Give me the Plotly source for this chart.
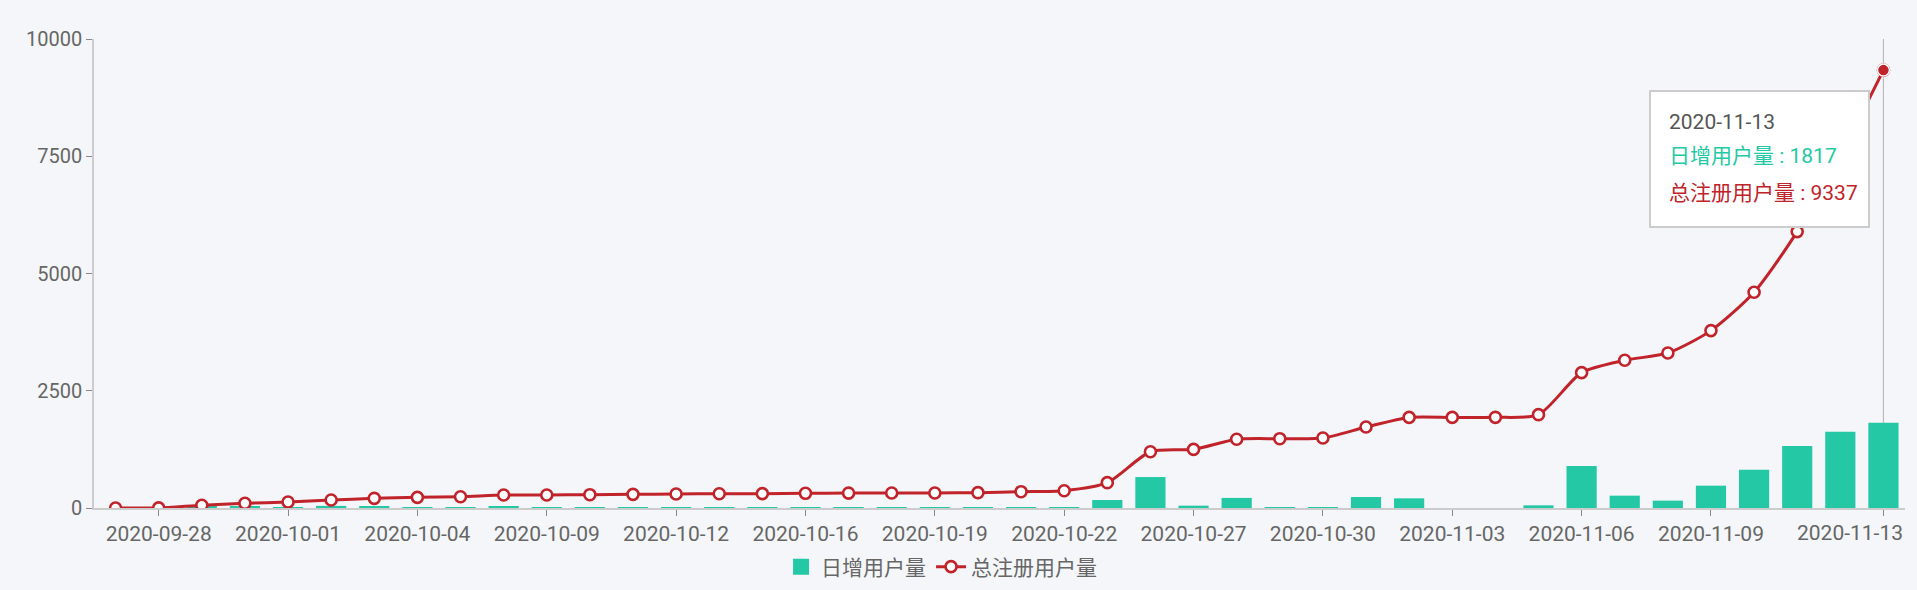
import plotly.graph_objects as go

# ---------------- data ----------------
dates = [
    "2020-09-27", "2020-09-28", "2020-09-29", "2020-09-30", "2020-10-01", "2020-10-02",
    "2020-10-03", "2020-10-04", "2020-10-06", "2020-10-08", "2020-10-09", "2020-10-10",
    "2020-10-11", "2020-10-12", "2020-10-13", "2020-10-15", "2020-10-16", "2020-10-17",
    "2020-10-18", "2020-10-19", "2020-10-20", "2020-10-21", "2020-10-22", "2020-10-23",
    "2020-10-25", "2020-10-27", "2020-10-28", "2020-10-29", "2020-10-30", "2020-10-31",
    "2020-11-02", "2020-11-03", "2020-11-04", "2020-11-05", "2020-11-06", "2020-11-07",
    "2020-11-08", "2020-11-09", "2020-11-10", "2020-11-11", "2020-11-12", "2020-11-13",
]
daily_new = [
    0, 0, 30, 25, 15, 45, 40, 12, 10, 30, 5, 3, 2, 3, 5, 2, 5, 3, 2, 2, 6,
    21, 21, 171, 660, 50, 215, 13, 14, 234, 206, 0, 0, 57, 896, 263, 157, 476, 817,
    1322, 1627, 1817,
]
total_users = [
    0, 2, 60, 100, 128, 170, 206, 227, 241, 277, 278, 284, 291, 298, 305, 306, 313,
    318, 320, 321, 327, 348, 369, 540, 1200, 1250, 1465, 1478, 1492, 1726, 1932, 1932,
    1933, 1990, 2886, 3149, 3306, 3782, 4599, 5893, 7520, 9337,
]
tick_dates = [
    "2020-09-28", "2020-10-01", "2020-10-04", "2020-10-09", "2020-10-12", "2020-10-16",
    "2020-10-19", "2020-10-22", "2020-10-27", "2020-10-30", "2020-11-03", "2020-11-06",
    "2020-11-09", "2020-11-13",
]
y_ticks = [0, 2500, 5000, 7500, 10000]
y_ticktext = ["0", "2500", "5000", "7500", "10000"]

name_bar = "日增用户量"
name_line = "总注册用户量"

# ---------------- style ----------------
TEAL = "#24c8a5"
RED = "#c1232b"
BG = "#f4f6f9"
TXT = "#666666"
AXIS = "#cccccc"
FONT = "Roboto, 'Noto Sans CJK SC', sans-serif"

fig = go.Figure()
fig.add_trace(go.Bar(
    x=dates, y=daily_new, name=name_bar, showlegend=False,
    marker=dict(color=TEAL, line=dict(width=0)),
    width=0.7,
))
# legend entry for the bars (larger square swatch)
fig.add_trace(go.Scatter(
    x=[None], y=[None], name=name_bar, mode="markers",
    marker=dict(symbol="square", size=17, color=TEAL),
))
fig.add_trace(go.Scatter(
    x=dates, y=total_users, name=name_line, mode="lines+markers",
    line=dict(color=RED, width=3, shape="spline", smoothing=0.7),
    marker=dict(symbol="circle", size=11, color="white", line=dict(color=RED, width=2.6)),
))
# highlighted (hovered) last point
fig.add_trace(go.Scatter(
    x=[dates[-1]], y=[total_users[-1]], mode="markers", showlegend=False,
    marker=dict(symbol="circle", size=12, color=RED, line=dict(color="white", width=1.5)),
    hoverinfo="skip",
))

# axis pointer line at hovered category
fig.add_shape(type="line", xref="x", yref="paper", x0=dates[-1], x1=dates[-1], y0=0, y1=1,
              line=dict(color="#bbbbbb", width=1.2), layer="below")

# tooltip box
fig.add_shape(type="rect", xref="paper", yref="paper", x0=0.8592, x1=0.9801, y0=0.599, y1=0.889,
              fillcolor="white", line=dict(color="#cccccc", width=2), layer="above")
tip_lines = [
    (dates[-1], "#555555", 0.823),
    (f"{name_bar} : {daily_new[-1]}", TEAL, 0.7505),
    (f"{name_line} : {total_users[-1]}", RED, 0.6716),
]
for txt, col, yy in tip_lines:
    fig.add_annotation(xref="paper", yref="paper", x=0.8686, y=yy, xanchor="left", yanchor="middle",
                       text=txt, showarrow=False, font=dict(family=FONT, size=21, color=col))

# last tick label shifted to stay inside chart
fig.add_annotation(xref="paper", yref="paper", x=1.0, y=0, yshift=-11, xanchor="right", yanchor="top",
                   text=tick_dates[-1], showarrow=False, font=dict(family=FONT, size=21, color=TXT))

ticktext = tick_dates[:-1] + [""]

fig.update_layout(
    width=1917, height=590,
    margin=dict(l=94, r=12, t=39, b=82, autoexpand=False),
    paper_bgcolor=BG, plot_bgcolor=BG,
    font=dict(family=FONT, size=20, color=TXT),
    showlegend=True,
    legend=dict(orientation="h", x=0.468, xanchor="center",
                yref="container", y=23 / 590, yanchor="middle",
                font=dict(family=FONT, size=21, color=TXT), bgcolor="rgba(0,0,0,0)",
                itemwidth=30, tracegroupgap=0),
    bargap=0.3,
    xaxis=dict(
        type="category", categoryorder="array", categoryarray=dates,
        range=[-0.5, len(dates) - 0.5],
        tickmode="array", tickvals=tick_dates, ticktext=ticktext,
        showline=True, linecolor=AXIS, linewidth=1.5,
        ticks="outside", ticklen=6, tickcolor="#888888", tickwidth=1,
        showgrid=False, zeroline=False,
        tickfont=dict(family=FONT, size=21, color=TXT),
    ),
    yaxis=dict(
        range=[0, 10000], tickmode="array", tickvals=y_ticks, ticktext=y_ticktext,
        showline=True, linecolor=AXIS, linewidth=1.5,
        ticks="outside", ticklen=6, tickcolor="#888888", tickwidth=1,
        showgrid=False, zeroline=False,
        tickfont=dict(family=FONT, size=20, color=TXT),
    ),
)

fig.write_html(
    "out.html",
    config={"displayModeBar": False},
    post_script="document.body.style.margin='0';document.body.style.background='%s';" % BG,
)
